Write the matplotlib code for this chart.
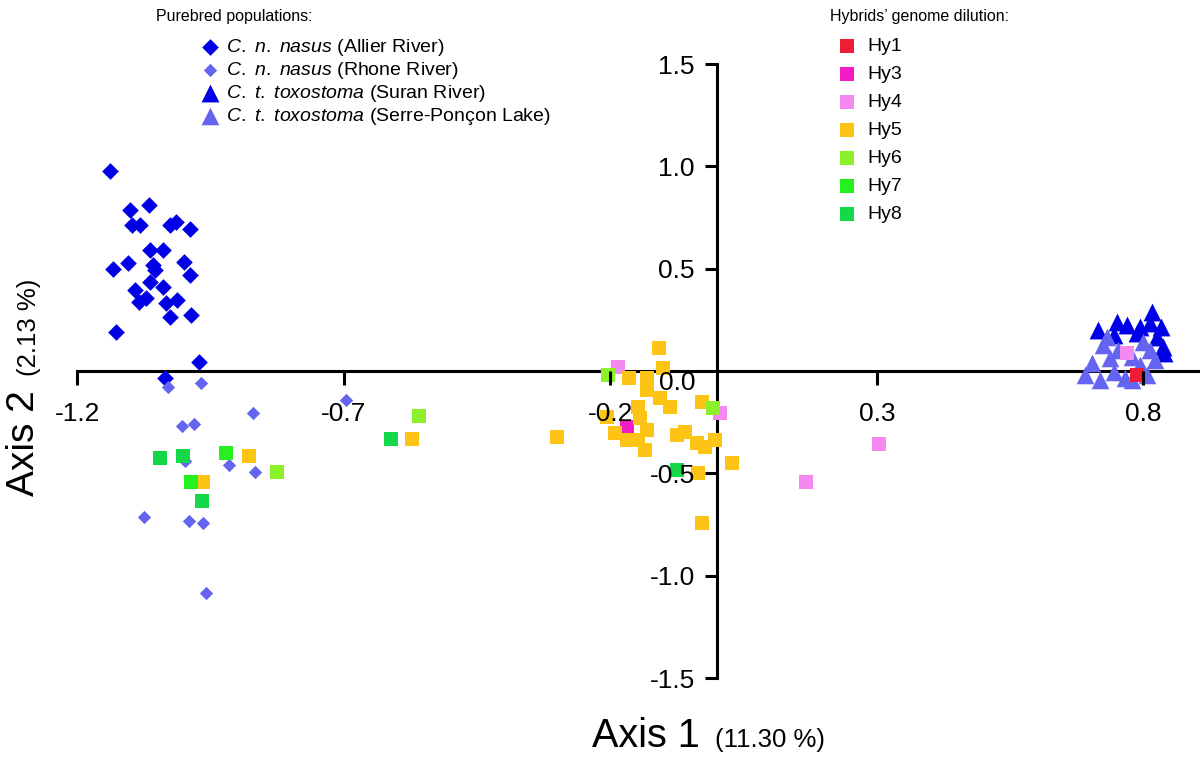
import matplotlib
matplotlib.use("Agg")
import matplotlib.pyplot as plt

plt.rcParams["font.family"] = ["Liberation Sans", "DejaVu Sans"]
plt.rcParams["mathtext.fontset"] = "custom"
plt.rcParams["mathtext.rm"] = "Liberation Sans"
plt.rcParams["mathtext.it"] = "Liberation Sans:italic"
plt.rcParams["axes.unicode_minus"] = False

# purebred populations (PCA scores)
allier_x = [-1.138, -1.101, -1.065, -1.098, -1.083, -1.026, -1.015, -0.989, -1.133, -1.105,
            -1.063, -1.039, -1.058, -1.054, -1.000, -0.989, -1.092, -1.064, -1.039, -1.084,
            -1.071, -1.034, -1.014, -1.026, -0.986, -1.128, -0.971, -1.036]
allier_y = [0.979, 0.787, 0.811, 0.714, 0.714, 0.714, 0.730, 0.693, 0.497, 0.529,
            0.591, 0.591, 0.518, 0.494, 0.534, 0.469, 0.396, 0.436, 0.412, 0.339,
            0.355, 0.334, 0.347, 0.265, 0.274, 0.192, 0.045, -0.036]

rhone_x = [-1.030, -0.969, -0.871, -0.696, -1.004, -0.981, -0.998, -0.915, -0.866, -1.075,
           -0.991, -0.964, -0.959]
rhone_y = [-0.077, -0.060, -0.204, -0.142, -0.269, -0.259, -0.438, -0.459, -0.492, -0.712,
           -0.732, -0.744, -1.084]

suran_x = [0.816, 0.714, 0.750, 0.769, 0.794, 0.812, 0.833, 0.787, 0.825, 0.836, 0.839, 0.744]
suran_y = [0.290, 0.200, 0.241, 0.225, 0.217, 0.233, 0.217, 0.184, 0.168, 0.119, 0.087, 0.176]

serre_x = [0.731, 0.725, 0.753, 0.800, 0.812, 0.703, 0.737, 0.778, 0.822, 0.690,
           0.719, 0.744, 0.766, 0.806, 0.778, 0.794]
serre_y = [0.168, 0.127, 0.103, 0.143, 0.103, 0.038, 0.062, 0.070, 0.054, -0.020,
           -0.044, -0.003, -0.036, -0.020, -0.044, 0.029]

# hybrids
hy1_x = [0.787]
hy1_y = [-0.020]
hy3_x = [-0.168]
hy3_y = [-0.272]
hy4_x = [-0.185, 0.006, 0.304, 0.166, 0.769]
hy4_y = [0.021, -0.207, -0.357, -0.543, 0.089]
hy5_x = [-0.878, -0.964, -0.572, -0.301,
         -0.108, -0.101, -0.166, -0.132, -0.132, -0.107, -0.088, -0.148, -0.029, -0.207,
         -0.145, -0.132, -0.191, -0.169, -0.148, -0.135, -0.076, -0.060, -0.038, -0.023,
         -0.004, 0.028, -0.035, -0.029]
hy5_y = [-0.415, -0.541, -0.334, -0.321,
         0.111, 0.013, -0.036, -0.036, -0.093, -0.133, -0.174, -0.174, -0.150, -0.223,
         -0.231, -0.288, -0.305, -0.337, -0.337, -0.386, -0.313, -0.297, -0.353, -0.370,
         -0.337, -0.451, -0.497, -0.741]
hy6_x = [-0.825, -0.559, -0.204, -0.008]
hy6_y = [-0.495, -0.220, -0.020, -0.182]
hy7_x = [-0.921, -0.987]
hy7_y = [-0.402, -0.541]
hy8_x = [-1.045, -1.001, -0.967, -0.612, -0.076]
hy8_y = [-0.427, -0.415, -0.635, -0.334, -0.484]

pure_labels = [r"$\it{C.}$ $\it{n.}$ $\it{nasus}$ (Allier River)",
               r"$\it{C.}$ $\it{n.}$ $\it{nasus}$ (Rhone River)",
               r"$\it{C.}$ $\it{t.}$ $\it{toxostoma}$ (Suran River)",
               r"$\it{C.}$ $\it{t.}$ $\it{toxostoma}$ (Serre-Ponçon Lake)"]
hybrid_labels = ["Hy1", "Hy3", "Hy4", "Hy5", "Hy6", "Hy7", "Hy8"]
hybrid_colors = ["#ee1d36", "#f21cc4", "#f48af0", "#fdc315", "#8cf02a", "#27f020", "#14d84a"]

x_ticks = [-1.2, -0.7, -0.2, 0.3, 0.8]
x_ticklabels = ["-1.2", "-0.7", "-0.2", "0.3", "0.8"]
y_ticks = [-1.5, -1.0, -0.5, 0.5, 1.0, 1.5]
y_ticklabels = ["-1.5", "-1.0", "-0.5", "0.5", "1.0", "1.5"]

fig = plt.figure(figsize=(12, 7.6), dpi=100)
ax = fig.add_axes([77.4 / 1200, 82 / 760, 1122 / 1200, 614 / 760])

dark = "#0000e6"
light = "#6464f0"
h_allier = ax.scatter(allier_x, allier_y, marker="D", s=72, color=dark, linewidths=0, zorder=3)
h_rhone = ax.scatter(rhone_x, rhone_y, marker="D", s=46, color=light, linewidths=0, zorder=3)
h_suran = ax.scatter(suran_x, suran_y, marker="^", s=165, color=dark, linewidths=0, zorder=3)
h_serre = ax.scatter(serre_x, serre_y, marker="^", s=160, color=light, linewidths=0, zorder=3)

hy_handles = []
for xs, ys, col in zip([hy1_x, hy3_x, hy4_x, hy5_x, hy6_x, hy7_x, hy8_x],
                       [hy1_y, hy3_y, hy4_y, hy5_y, hy6_y, hy7_y, hy8_y], hybrid_colors):
    h = ax.scatter(xs, ys, marker="s", s=100, color=col, linewidths=0, zorder=3)
    hy_handles.append(h)

ax.set_xlim(-1.2, 0.905)
ax.set_ylim(-1.5, 1.5)
for side in ["top", "right"]:
    ax.spines[side].set_visible(False)
ax.spines["left"].set_position(("data", 0))
ax.spines["bottom"].set_position(("data", 0))
ax.spines["left"].set_bounds(-1.5, 1.5)
ax.spines["bottom"].set_bounds(-1.2, 0.905)
for side in ["left", "bottom"]:
    ax.spines[side].set_linewidth(2.2)
ax.set_xticks(x_ticks)
ax.set_xticklabels(x_ticklabels)
ax.set_yticks(y_ticks)
ax.set_yticklabels(y_ticklabels)
ax.tick_params(axis="x", direction="out", length=10, width=2.2, pad=12, labelsize=19)
ax.tick_params(axis="y", direction="out", length=9, width=2.2, pad=7, labelsize=19)
ax.xaxis.set_zorder(4)
ax.yaxis.set_zorder(4)
ax.annotate("0.0", xy=(0, 0), xytext=(-22, -12), textcoords="offset pixels",
            ha="right", va="center", fontsize=19, zorder=5)

# axis titles
fig.text(34 / 1200, 1 - 496 / 760, "Axis 2", rotation=90, rotation_mode="anchor",
         ha="left", va="baseline", fontsize=28)
fig.text(36 / 1200, 1 - 376 / 760, "(2.13 %)", rotation=90, rotation_mode="anchor",
         ha="left", va="baseline", fontsize=18.5)
fig.text(592 / 1200, 13 / 760, "Axis 1", ha="left", va="baseline", fontsize=28.5)
fig.text(715 / 1200, 13 / 760, "(11.30 %)", ha="left", va="baseline", fontsize=18.5)

# legends
fig.text(156 / 1200, 1 - 17 / 760, "Purebred populations:", ha="left", va="center", fontsize=11.5)
fig.text(830 / 1200, 1 - 17 / 760, "Hybrids\u2019 genome dilution:", ha="left", va="center", fontsize=11.5)

fig.legend([h_allier, h_rhone, h_suran, h_serre], pure_labels, loc="upper left",
           bbox_to_anchor=(200 / 1200, 1 - 37 / 760), frameon=False, fontsize=14,
           handlelength=1.0, handletextpad=0.35, labelspacing=0.1, borderpad=0,
           borderaxespad=0)
fig.legend(hy_handles, hybrid_labels, loc="upper left",
           bbox_to_anchor=(837 / 1200, 1 - 37 / 760), frameon=False, fontsize=14,
           handlelength=1.0, handletextpad=0.55, labelspacing=0.54, borderpad=0,
           borderaxespad=0)

fig.savefig("out.png", dpi=100)
